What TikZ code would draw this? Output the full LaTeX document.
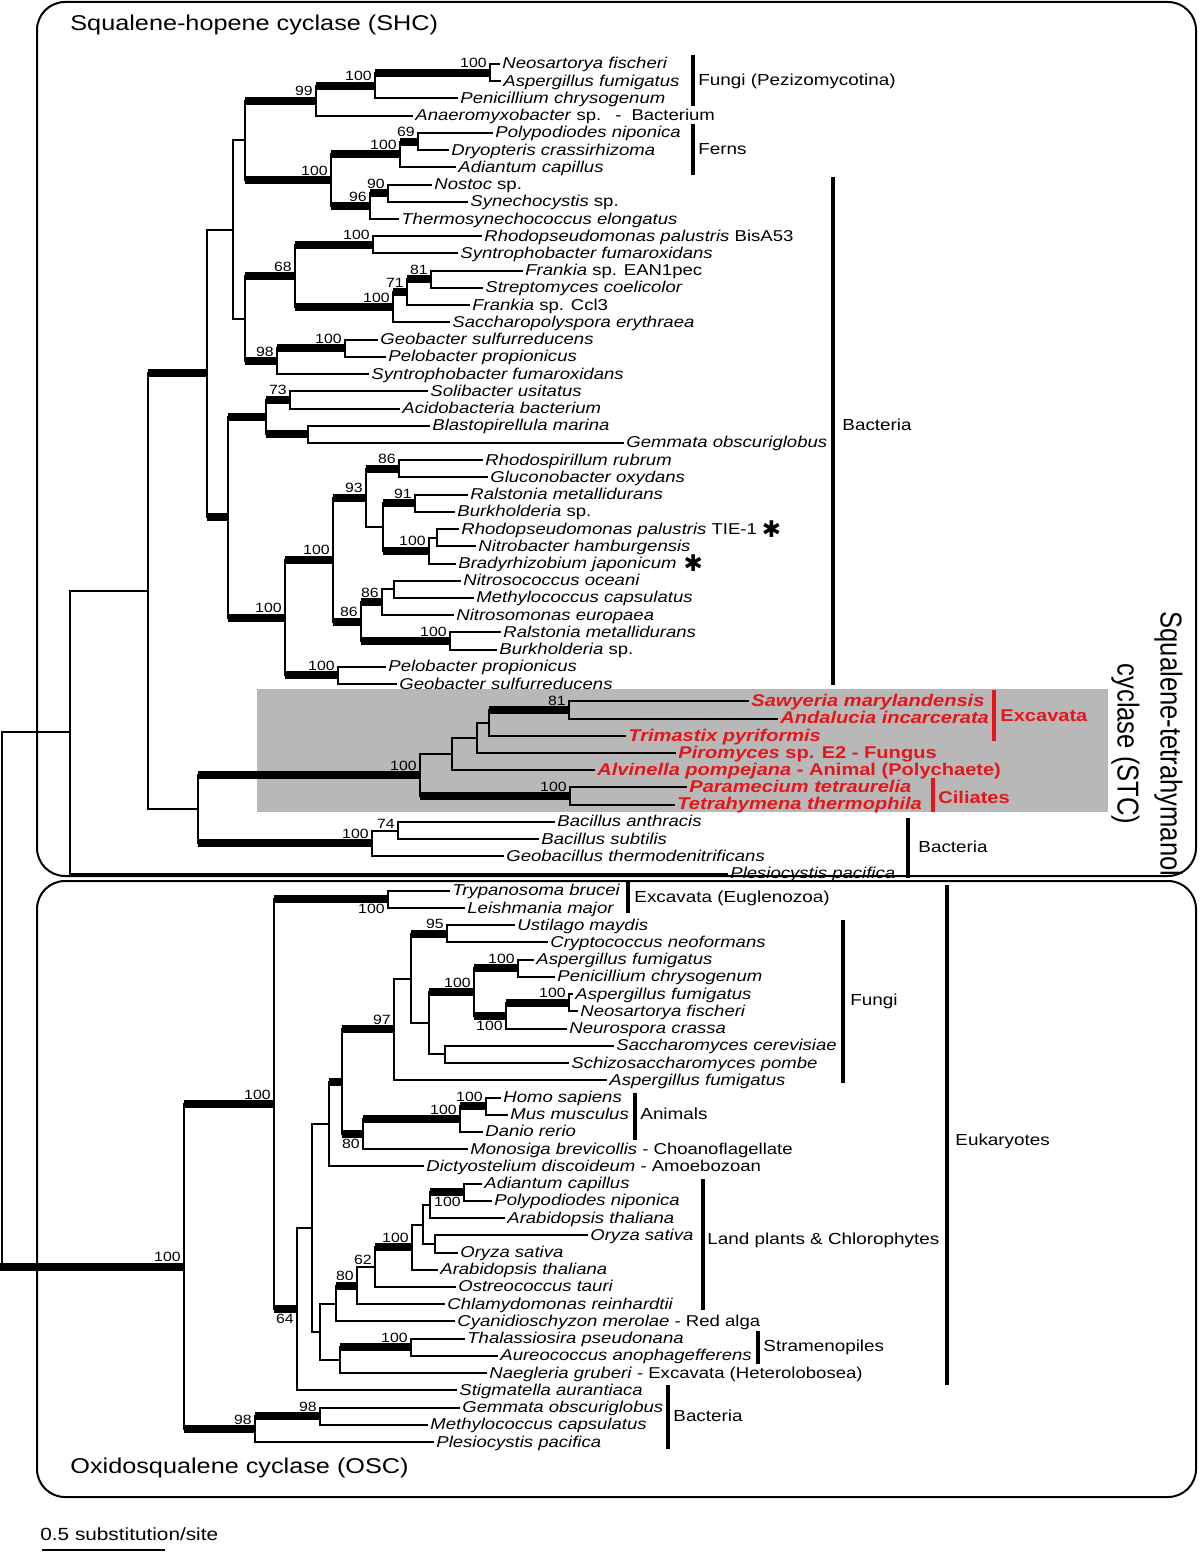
\documentclass[tikz,border=0pt]{standalone}
\usepackage{fontspec}
\setmainfont{Liberation Sans}[FakeStretch=1.18]
\newfontfamily\plainsans{Liberation Sans}
\newfontfamily\djv{DejaVu Sans}
\usetikzlibrary{calc}
\definecolor{stcred}{RGB}{228,22,26}
\definecolor{stcgray}{RGB}{184,184,184}
\newcommand\fLeaf{\fontsize{7.85pt}{9pt}\selectfont}
\newcommand\fBoot{\fontsize{6.7pt}{7pt}\selectfont}
\newcommand\fGroup{\fontsize{8.0pt}{9pt}\selectfont}
\newcommand\fTitle{\fontsize{10.7pt}{12pt}\selectfont}
\newcommand\fRed{\fontsize{8.5pt}{9pt}\selectfont\bfseries}
\newcommand\LY[1]{(64+17.225*(#1-1))}
\tikzset{
  vbr/.style={line width=1pt,line cap=rect},
  tn/.style={line width=1pt},
  tk/.style={line width=4pt},
  leaf/.style={anchor=west,inner sep=0pt,xshift=1pt,font=\fLeaf,text height=6pt,text depth=1pt},
  redleaf/.style={leaf,font=\fRed,text=stcred,text height=6.3pt,text depth=1pt},
  boot/.style={inner sep=0pt,font=\fBoot},
  grpbar/.style={line width=2pt},
  grp/.style={anchor=west,inner sep=0pt,font=\fGroup},
  redgrp/.style={anchor=west,inner sep=0pt,font=\fRed,text=stcred},
  box/.style={line width=1pt,rounded corners=14pt},
  astk/.style={inner sep=0pt,font=\djv\fontsize{11.5pt}{12pt}\selectfont,anchor=west},
}
\newcommand\leaf[4][leaf]{\coordinate (L#2) at (#3,{\LY{#2}}); \node[#1] (txt#2) at (L#2) {#4};}
\newcommand\cl[6]{%
  \path let \p1=(#3), \p2=(#5) in coordinate (#1) at ({#2*0.5pt},{0.5*(\y1+\y2)});
  \draw[vbr] (#1 |- #3) -- (#1 |- #5);
  \draw[#4] (#1 |- #3) -- (#3);
  \draw[#6] (#1 |- #5) -- (#5);
}
\newcommand\bsA[2]{\node[boot,anchor=south east] (bs#1) at ([xshift=-1.5pt,yshift=2.2pt]#1) {#2};}
\newcommand\bsT[2]{\node[boot,anchor=south east] (bs#1) at ([xshift=-1.5pt,yshift=1.0pt]#1) {#2};}
\newcommand\bsB[2]{\node[boot,anchor=north east] (bs#1) at ([xshift=-1.5pt,yshift=-2.4pt]#1) {#2};}
\begin{document}
\begin{tikzpicture}[x=0.5pt,y=-0.5pt]
\useasboundingbox (0,0) rectangle (1200,1552);
% boxes
\draw[box] (37,2) rectangle (1196,876);
\draw[box] (37,881) rectangle (1196,1497);
\fill[stcgray] (257,689) rectangle (1108,812);
% titles
\node[anchor=west,inner sep=0pt,font=\fTitle] (shc) at (70,25) {Squalene-hopene cyclase (SHC)};
\node[anchor=west,inner sep=0pt,font=\fTitle] (osc) at (70,1468) {Oxidosqualene cyclase (OSC)};
\node[font=\plainsans\fontsize{12.8pt}{18.2pt}\selectfont,align=center,inner sep=0pt,xscale=1.18,rotate=-90] (stc) at (1147,744) {Squalene-tetrahymanol\\cyclase (STC)};
% leaves SHC
\leaf{1}{500}{\textit{Neosartorya fischeri}}
\leaf{2}{501}{\textit{Aspergillus fumigatus}}
\leaf{3}{458}{\textit{Penicillium chrysogenum}}
\leaf{4}{413}{\textit{Anaeromyxobacter} sp.\hspace{7pt}-\hspace{5pt}Bacterium}
\leaf{5}{493}{\textit{Polypodiodes niponica}}
\leaf{6}{449}{\textit{Dryopteris crassirhizoma}}
\leaf{7}{456}{\textit{Adiantum capillus}}
\leaf{8}{432}{\textit{Nostoc} sp.}
\leaf{9}{468}{\textit{Synechocystis} sp.}
\leaf{10}{399}{\textit{Thermosynechococcus elongatus}}
\leaf{11}{482}{\textit{Rhodopseudomonas palustris} BisA53}
\leaf{12}{458}{\textit{Syntrophobacter fumaroxidans}}
\leaf{13}{523}{\textit{Frankia} sp. EAN1pec}
\leaf{14}{483}{\textit{Streptomyces coelicolor}}
\leaf{15}{470}{\textit{Frankia} sp. Ccl3}
\leaf{16}{450}{\textit{Saccharopolyspora erythraea}}
\leaf{17}{378}{\textit{Geobacter sulfurreducens}}
\leaf{18}{386}{\textit{Pelobacter propionicus}}
\leaf{19}{369}{\textit{Syntrophobacter fumaroxidans}}
\leaf{20}{428}{\textit{Solibacter usitatus}}
\leaf{21}{400}{\textit{Acidobacteria bacterium}}
\leaf{22}{430}{\textit{Blastopirellula marina}}
\leaf{23}{624}{\textit{Gemmata obscuriglobus}}
\leaf{24}{483}{\textit{Rhodospirillum rubrum}}
\leaf{25}{488}{\textit{Gluconobacter oxydans}}
\leaf{26}{468}{\textit{Ralstonia metallidurans}}
\leaf{27}{455}{\textit{Burkholderia} sp.}
\leaf{28}{459}{\textit{Rhodopseudomonas palustris} TIE-1}
\leaf{29}{476}{\textit{Nitrobacter hamburgensis}}
\leaf{30}{456}{\textit{Bradyrhizobium japonicum}}
\leaf{31}{461}{\textit{Nitrosococcus oceani}}
\leaf{32}{474}{\textit{Methylococcus capsulatus}}
\leaf{33}{454}{\textit{Nitrosomonas europaea}}
\leaf{34}{501}{\textit{Ralstonia metallidurans}}
\leaf{35}{497}{\textit{Burkholderia} sp.}
\leaf{36}{386}{\textit{Pelobacter propionicus}}
\leaf{37}{397}{\textit{Geobacter sulfurreducens}}
\leaf[redleaf]{38}{749}{\textit{Sawyeria marylandensis}}
\leaf[redleaf]{39}{778}{\textit{Andalucia incarcerata}}
\leaf[redleaf]{40}{626}{\textit{Trimastix pyriformis}}
\leaf[redleaf]{41}{676}{\textit{Piromyces} sp. E2 - Fungus}
\leaf[redleaf]{42}{595}{\textit{Alvinella pompejana} - Animal (Polychaete)}
\leaf[redleaf]{43}{687}{\textit{Paramecium tetraurelia}}
\leaf[redleaf]{44}{675}{\textit{Tetrahymena thermophila}}
\leaf{45}{555}{\textit{Bacillus anthracis}}
\leaf{46}{539}{\textit{Bacillus subtilis}}
\leaf{47}{504}{\textit{Geobacillus thermodenitrificans}}
\leaf{48}{728}{\textit{Plesiocystis pacifica}}
% leaves OSC
\leaf{49}{450}{\textit{Trypanosoma brucei}}
\leaf{50}{465}{\textit{Leishmania major}}
\leaf{51}{515}{\textit{Ustilago maydis}}
\leaf{52}{548}{\textit{Cryptococcus neoformans}}
\leaf{53}{534}{\textit{Aspergillus fumigatus}}
\leaf{54}{555}{\textit{Penicillium chrysogenum}}
\leaf{55}{573}{\textit{Aspergillus fumigatus}}
\leaf{56}{578}{\textit{Neosartorya fischeri}}
\leaf{57}{567}{\textit{Neurospora crassa}}
\leaf{58}{614}{\textit{Saccharomyces cerevisiae}}
\leaf{59}{569}{\textit{Schizosaccharomyces pombe}}
\leaf{60}{607}{\textit{Aspergillus fumigatus}}
\leaf{61}{501}{\textit{Homo sapiens}}
\leaf{62}{508}{\textit{Mus musculus}}
\leaf{63}{483}{\textit{Danio rerio}}
\leaf{64}{468}{\textit{Monosiga brevicollis} - Choanoflagellate}
\leaf{65}{424}{\textit{Dictyostelium discoideum} - Amoebozoan}
\leaf{66}{482}{\textit{Adiantum capillus}}
\leaf{67}{492}{\textit{Polypodiodes niponica}}
\leaf{68}{505}{\textit{Arabidopsis thaliana}}
\leaf{69}{588}{\textit{Oryza sativa}}
\leaf{70}{458}{\textit{Oryza sativa}}
\leaf{71}{438}{\textit{Arabidopsis thaliana}}
\leaf{72}{456}{\textit{Ostreococcus tauri}}
\leaf{73}{445}{\textit{Chlamydomonas reinhardtii}}
\leaf{74}{455}{\textit{Cyanidioschyzon merolae} - Red alga}
\leaf{75}{465}{\textit{Thalassiosira pseudonana}}
\leaf{76}{498}{\textit{Aureococcus anophagefferens}}
\leaf{77}{487}{\textit{Naegleria gruberi} - Excavata (Heterolobosea)}
\leaf{78}{457}{\textit{Stigmatella aurantiaca}}
\leaf{79}{460}{\textit{Gemmata obscuriglobus}}
\leaf{80}{428}{\textit{Methylococcus capsulatus}}
\leaf{81}{434}{\textit{Plesiocystis pacifica}}
% asterisks
\node[astk] (ast1) at ([xshift=2pt]txt28.east) {✱};
\node[astk] (ast2) at ([xshift=3pt]txt30.east) {✱};
% SHC tree
\cl{N1}{490}{L1}{tn}{L2}{tn}
\cl{N2}{375}{N1}{tk}{L3}{tn}
\cl{N3}{316}{N2}{tk}{L4}{tn}
\cl{N7}{418}{L5}{tn}{L6}{tn}
\cl{N5}{400}{N7}{tk}{L7}{tn}
\cl{N8}{388}{L8}{tn}{L9}{tn}
\cl{N6}{370}{N8}{tk}{L10}{tn}
\cl{N4}{331}{N5}{tk}{N6}{tk}
\cl{G}{245}{N3}{tk}{N4}{tk}
\cl{N10}{373}{L11}{tn}{L12}{tn}
\cl{N13}{431}{L13}{tn}{L14}{tn}
\cl{N12}{407}{N13}{tk}{L15}{tn}
\cl{N11}{393}{N12}{tk}{L16}{tn}
\cl{N9}{295}{N10}{tk}{N11}{tk}
\cl{N15}{345}{L17}{tn}{L18}{tn}
\cl{N14}{277}{N15}{tk}{L19}{tn}
\cl{H}{245}{N9}{tk}{N14}{tk}
\cl{E}{233}{G}{tn}{H}{tn}
\cl{N18}{290}{L20}{tn}{L21}{tn}
\cl{N19}{308}{L22}{tn}{L23}{tn}
\cl{N16}{266}{N18}{tk}{N19}{tk}
\cl{N23}{399}{L24}{tn}{L25}{tn}
\cl{N26}{415}{L26}{tn}{L27}{tn}
\cl{N28}{437}{L28}{tn}{L29}{tn}
\cl{N27}{429}{N28}{tn}{L30}{tn}
\cl{N25}{383}{N26}{tk}{N27}{tk}
\cl{N24}{366}{N23}{tk}{N25}{tn}
\cl{N32}{394}{L31}{tn}{L32}{tn}
\cl{N30}{382}{N32}{tn}{L33}{tn}
\cl{N31}{450}{L34}{tn}{L35}{tn}
\cl{N29}{361}{N30}{tk}{N31}{tk}
\cl{N17}{333}{N24}{tk}{N29}{tk}
\cl{N21}{338}{L36}{tn}{L37}{tn}
\cl{N22}{285}{N17}{tk}{N21}{tk}
\cl{F}{228}{N16}{tk}{N22}{tk}
\cl{C}{207}{E}{tn}{F}{tk}
\cl{S81}{569}{L38}{tn}{L39}{tn}
\cl{X1}{489}{S81}{tk}{L40}{tn}
\cl{X2}{477}{X1}{tn}{L41}{tn}
\cl{X3}{452}{X2}{tn}{L42}{tn}
\cl{CIL}{570}{L43}{tn}{L44}{tn}
\cl{STC}{420}{X3}{tn}{CIL}{tk}
\cl{B74}{398}{L45}{tn}{L46}{tn}
\cl{BAC}{372}{B74}{tn}{L47}{tn}
\cl{D}{198}{STC}{tk}{BAC}{tk}
\cl{B}{148}{C}{tk}{D}{tn}
\cl{A0}{70}{B}{tn}{L48}{tn}
% OSC tree
\cl{T}{388}{L49}{tn}{L50}{tn}
\cl{U}{447}{L51}{tn}{L52}{tn}
\cl{F5}{518}{L53}{tn}{L54}{tn}
\cl{F7}{569}{L55}{tn}{L56}{tn}
\cl{F6}{506}{F7}{tk}{L57}{tn}
\cl{F4}{474}{F5}{tk}{F6}{tk}
\cl{SS}{445}{L58}{tn}{L59}{tn}
\cl{F3}{429}{F4}{tk}{SS}{tn}
\cl{F2}{411}{U}{tk}{F3}{tn}
\cl{F1}{394}{F2}{tn}{L60}{tn}
\cl{A3}{486}{L61}{tn}{L62}{tn}
\cl{A2}{460}{A3}{tk}{L63}{tn}
\cl{A1}{363}{A2}{tk}{L64}{tn}
\cl{Q1}{342}{F1}{tk}{A1}{tk}
\cl{Q}{329}{Q1}{tk}{L65}{tn}
\cl{FN}{464}{L66}{tn}{L67}{tn}
\cl{S6}{430}{FN}{tk}{L68}{tn}
\cl{O}{435}{L69}{tn}{L70}{tn}
\cl{S7}{423}{S6}{tn}{O}{tn}
\cl{S4}{412}{S7}{tn}{L71}{tn}
\cl{S3}{375}{S4}{tk}{L72}{tn}
\cl{S2}{357}{S3}{tn}{L73}{tn}
\cl{S1}{336}{S2}{tk}{L74}{tn}
\cl{S9}{411}{L75}{tn}{L76}{tn}
\cl{S8}{340}{S9}{tk}{L77}{tn}
\cl{S}{320}{S1}{tn}{S8}{tn}
\cl{P}{312}{Q}{tn}{S}{tn}
\cl{M}{297}{P}{tn}{L78}{tn}
\cl{E1}{274}{T}{tk}{M}{tk}
\cl{B3}{320}{L79}{tn}{L80}{tn}
\cl{B2}{255}{B3}{tk}{L81}{tn}
\cl{R}{184}{E1}{tk}{B2}{tk}
\cl{ROOT}{2}{A0}{tn}{R}{tk}
\draw[tk] (R -| 0,0) -- (R);
% bootstrap labels SHC
\bsA{N1}{100}\bsA{N2}{100}\bsA{N3}{99}\bsA{N7}{69}\bsA{N5}{100}\bsA{N4}{100}
\bsA{N8}{90}\bsA{N6}{96}\bsA{N10}{100}\bsA{N9}{68}\bsA{N13}{81}\bsA{N12}{71}
\bsA{N11}{100}\bsA{N15}{100}\bsA{N14}{98}\bsA{N18}{73}\bsA{N23}{86}\bsA{N24}{93}
\bsA{N26}{91}\bsA{N27}{100}\bsA{N17}{100}\bsA{N30}{86}\bsA{N29}{86}\bsA{N31}{100}
\bsA{N21}{100}\bsA{N22}{100}\bsA{S81}{81}\bsA{CIL}{100}\bsA{STC}{100}\bsA{BAC}{100}
\bsT{B74}{74}
% bootstrap labels OSC
\bsA{U}{95}\bsA{F5}{100}\bsA{F4}{100}\bsA{F7}{100}\bsA{F1}{97}\bsA{E1}{100}
\bsA{A3}{100}\bsA{A2}{100}\bsA{S4}{100}\bsA{S2}{80}\bsA{S9}{100}\bsA{R}{100}
\bsA{B2}{98}\bsA{B3}{98}
\bsT{S3}{62}
\bsB{T}{100}\bsB{F6}{100}\bsB{A1}{80}\bsB{FN}{100}\bsB{M}{64}
% group brackets SHC
\draw[grpbar] (693,55) -- (693,106);
\node[grp] (gFungiP) at (698,81) {Fungi (Pezizomycotina)};
\draw[grpbar] (693,124) -- (693,175);
\node[grp] (gFerns) at (698,149) {Ferns};
\draw[grpbar] (833,177) -- (833,685);
\node[grp] (gBact1) at (842,425) {Bacteria};
\draw[grpbar,stcred] (994,690) -- (994,741);
\node[redgrp] (gExc) at (1000,716) {Excavata};
\draw[grpbar,stcred] (933,778) -- (933,812);
\node[redgrp] (gCil) at (938,797) {Ciliates};
\draw[grpbar] (908,818) -- (908,878);
\node[grp] (gBact2) at (918,847) {Bacteria};
% group brackets OSC
\draw[grpbar] (628,882) -- (628,913);
\node[grp] (gEug) at (634,898) {Excavata (Euglenozoa)};
\draw[grpbar] (843,920) -- (843,1083);
\node[grp] (gFungi) at (850,1001) {Fungi};
\draw[grpbar] (635,1093) -- (635,1140);
\node[grp] (gAnim) at (640,1114) {Animals};
\draw[grpbar] (947,885) -- (947,1385);
\node[grp] (gEuk) at (955,1141) {Eukaryotes};
\draw[grpbar] (703,1179) -- (703,1310);
\node[grp] (gPlant) at (707,1240) {Land plants \& Chlorophytes};
\draw[grpbar] (758,1331) -- (758,1364);
\node[grp] (gStram) at (763,1347) {Stramenopiles};
\draw[grpbar] (668,1385) -- (668,1449);
\node[grp] (gBact3) at (673,1416) {Bacteria};
% scale bar
\coordinate (sb1) at (42,1550);
\coordinate (sb2) at (165,1550);
\draw[line width=1pt] (sb1) -- (sb2);
\node[anchor=west,inner sep=0pt,font=\fontsize{8.8pt}{10pt}\selectfont] (scl) at (40,1534) {0.5 substitution/site};
\end{tikzpicture}
\end{document}
